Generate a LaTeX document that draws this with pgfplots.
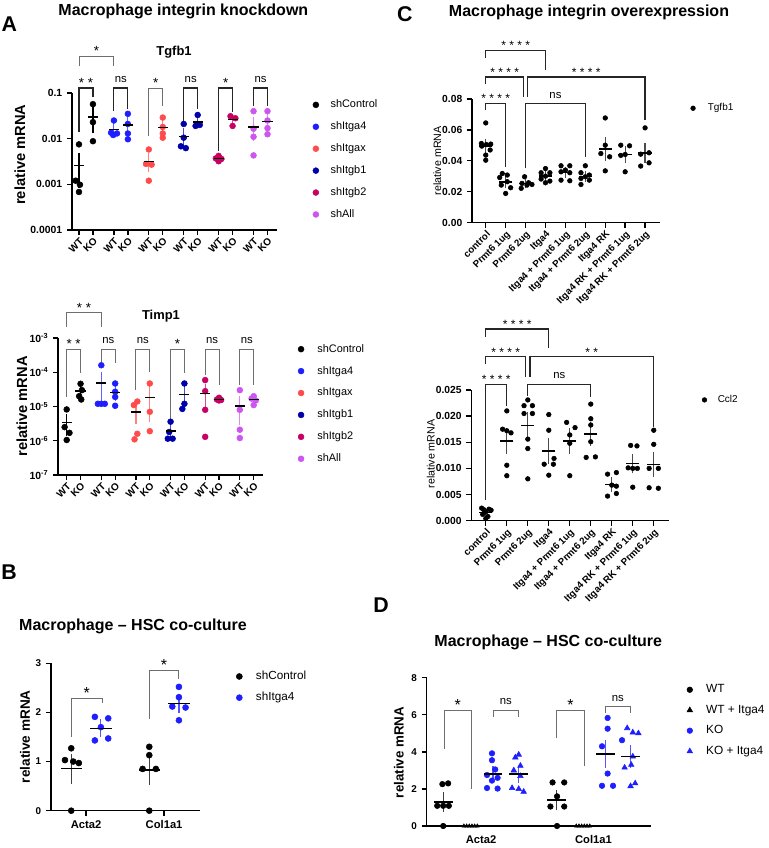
\documentclass[border=0pt]{standalone}
\usepackage{fontspec}
\setmainfont{Liberation Sans}
\usepackage{pgfplots}
\pgfplotsset{compat=1.18}
\newcommand\fs[1]{\fontsize{#1}{#1}\selectfont}
\definecolor{cA4}{RGB}{30,30,255}
\definecolor{cAx}{RGB}{255,75,75}
\definecolor{cB1}{RGB}{0,0,170}
\definecolor{cB2}{RGB}{200,0,100}
\definecolor{cAll}{RGB}{205,85,240}
\definecolor{brg}{RGB}{110,110,110}
\tikzset{
 brkK/.style={black!85, line width=0.9pt},
 brkG/.style={brg, line width=0.7pt},
 star/.style={anchor=base, yshift=0.5pt, text=black, font=\fs{10}},
 starB/.style={anchor=base, yshift=0pt, text=black, font=\fs{12}},
 starC/.style={anchor=base, yshift=0.5pt, text=black, font=\fs{9}},
 nsl/.style={anchor=base, yshift=4pt, text=black, font=\fs{8.5}},
}
% \brk{x1}{leg1}{x2}{leg2}{top}{labelstyle}{label}{linestyle}
\newcommand\brk[8]{\draw[#8] (axis cs:#1,#2) -- (axis cs:#1,#5) -- node[#6]{#7} (axis cs:#3,#5) -- (axis cs:#3,#4);}
% \ms{x}{mean}{sem}{color}{halfwidth}{cap}
\newcommand\ms[6]{\addplot[forget plot, only marks, mark=-, mark size=#5, mark options={black, line width=1.1pt}, error bars/.cd, y dir=both, y explicit, error bar style={#4, line width=0.9pt}, error mark options={mark size=#6, #4, line width=0.9pt}] coordinates {(#1,#2) +- (0,#3)};}
\pgfplotsset{prism/.style={scale only axis, anchor=south west, clip=false,
  axis lines*=left, axis line style={line width=1.1pt, -},
  tick align=outside, major tick length=3.8pt, tick style={line width=1pt, black},
  /pgf/number format/assume math mode=true, legend cell align=left,
  legend style={draw=none, fill=none, inner sep=0pt, anchor=north west}}}
\begin{document}
\begin{tikzpicture}
\path[use as bounding box] (0,0) rectangle (576pt,636pt);
% titles and panel letters
\node[font=\bfseries\fs{16}] at (7pt,618pt) {A};
\node[font=\bfseries\fs{12}] at (137.5pt,627.5pt) {Macrophage integrin knockdown};
\node[font=\bfseries\fs{9.7}] at (130.5pt,596.5pt) {Tgfb1};
\node[font=\bfseries\fs{9.7}] at (120.75pt,399pt) {Timp1};
\node[font=\bfseries\fs{16}] at (303.6pt,625.3pt) {C};
\node[font=\bfseries\fs{12}] at (441.75pt,626.8pt) {Macrophage integrin overexpression};
\node[font=\bfseries\fs{16}] at (6.75pt,206.8pt) {B};
\node[font=\bfseries\fs{12}] at (99.75pt,166.5pt) {Macrophage -- HSC co-culture};
\node[font=\bfseries\fs{16}] at (285.75pt,182.25pt) {D};
\node[font=\bfseries\fs{12}] at (411.2pt,154pt) {Macrophage -- HSC co-culture};

% ---------------- A: Tgfb1
\begin{axis}[prism, at={(54pt,463.5pt)}, width=153.75pt, height=102.75pt,
 ymode=log, ymin=1e-4, ymax=0.1, xmin=-0.5, xmax=14.18,
 ytick={1e-4,1e-3,1e-2,1e-1}, yticklabels={0.0001,0.001,0.01,0.1}, yminorticks=false,
 xtick={0,1,2.5,3.5,5,6,7.5,8.5,10,11,12.5,13.5},
 xticklabels={WT,KO,WT,KO,WT,KO,WT,KO,WT,KO,WT,KO},
 xticklabel style={rotate=45, anchor=north east, font=\bfseries\fs{7.5}, inner sep=1pt},
 yticklabel style={font=\bfseries\fs{7.8}},
 ylabel={relative mRNA}, ylabel style={font=\bfseries\fs{11}, at={(axis description cs:-0.254,0.55)}, anchor=center},
 legend style={at={(axis description cs:1.174,0.971)}, font=\fs{8.2}, row sep=5pt, column sep=6.8pt}]
\addplot[only marks, mark=*, mark size=2.2pt, black] coordinates {(0,0.0075) (-0.24,0.0012) (0.07,0.00098) (0,0.00068) (1,0.057) (1,0.023) (1,0.0088)};
\addlegendentry{shControl}
\addplot[only marks, mark=*, mark size=2.2pt, cA4] coordinates {(2.5,0.025) (2.3,0.0135) (2.72,0.013) (2.45,0.012) (3.5,0.035) (3.5,0.021) (3.5,0.013) (3.5,0.0097)};
\addlegendentry{shItga4}
\addplot[only marks, mark=*, mark size=2.2pt, cAx] coordinates {(5,0.0058) (4.8,0.0028) (5.2,0.0027) (5,0.0012) (6,0.029) (6,0.018) (6,0.013) (6,0.0105)};
\addlegendentry{shItgax}
\addplot[only marks, mark=*, mark size=2.2pt, cB1] coordinates {(7.5,0.021) (7.5,0.0105) (7.3,0.0068) (7.65,0.0062) (8.5,0.033) (8.5,0.021) (8.35,0.019) (8.65,0.020)};
\addlegendentry{shItgb1}
\addplot[only marks, mark=*, mark size=2.2pt, cB2] coordinates {(10,0.0042) (9.8,0.0037) (10.2,0.0036) (10,0.0032) (10.85,0.031) (11.2,0.028) (11,0.019)};
\addlegendentry{shItgb2}
\addplot[only marks, mark=*, mark size=2.2pt, cAll] coordinates {(12.5,0.040) (12.5,0.0165) (12.5,0.011) (12.5,0.0043) (13.5,0.040) (13.5,0.025) (13.5,0.017) (13.5,0.0125)};
\addlegendentry{shAll}
\ms{0}{0.00259}{0.00162}{black}{3.8pt}{2.2pt}
\ms{1}{0.0296}{0.0143}{black}{3.8pt}{2.2pt}
\ms{2.5}{0.0159}{0.00306}{cA4!70}{3.8pt}{2.2pt}
\ms{3.5}{0.0197}{0.0056}{cA4!70}{3.8pt}{2.2pt}
\ms{5}{0.00313}{0.00096}{cAx!70}{3.8pt}{2.2pt}
\ms{6}{0.0176}{0.0041}{cAx!70}{3.8pt}{2.2pt}
\ms{7.5}{0.0111}{0.00343}{cB1!70}{3.8pt}{2.2pt}
\ms{8.5}{0.02325}{0.00328}{cB1!70}{3.8pt}{2.2pt}
\ms{10}{0.00368}{0.0002}{cB2!70}{3.8pt}{2.2pt}
\ms{11}{0.026}{0.0036}{cB2!70}{3.8pt}{2.2pt}
\ms{12.5}{0.0180}{0.0078}{cAll!70}{3.8pt}{2.2pt}
\ms{13.5}{0.0236}{0.006}{cAll!70}{3.8pt}{2.2pt}
\brk{0}{0.39}{2.5}{0.39}{0.6457}{star}{*}{brkG}
\brk{0}{0.014}{1}{0.082}{0.1287}{star}{* *}{brkK}
\brk{2.5}{0.040}{3.5}{0.045}{0.1287}{nsl}{ns}{brkK}
\brk{5}{0.0115}{6}{0.052}{0.1287}{star}{*}{brkG}
\brk{7.5}{0.0245}{8.5}{0.045}{0.1287}{nsl}{ns}{brkK}
\brk{10}{0.0054}{11}{0.038}{0.1287}{star}{*}{brkK}
\brk{12.5}{0.052}{13.5}{0.052}{0.1287}{nsl}{ns}{brkK}
\end{axis}

% ---------------- A: Timp1
\begin{axis}[prism, at={(43.5pt,279.75pt)}, width=153.5pt, height=102.75pt,
 ymode=log, ymin=1e-7, ymax=1e-3, xmin=-0.628, xmax=14.15,
 ytick={1e-7,1e-6,1e-5,1e-4,1e-3},
 yticklabels={10\textsuperscript{-7},10\textsuperscript{-6},10\textsuperscript{-5},10\textsuperscript{-4},10\textsuperscript{-3}}, yminorticks=false,
 xtick={0,1,2.5,3.5,5,6,7.5,8.5,10,11,12.5,13.5},
 xticklabels={WT,KO,WT,KO,WT,KO,WT,KO,WT,KO,WT,KO},
 xticklabel style={rotate=45, anchor=north east, font=\bfseries\fs{7.5}, inner sep=1pt},
 yticklabel style={font=\bfseries\fs{7.8}},
 ylabel={relative mRNA}, ylabel style={font=\bfseries\fs{11}, at={(axis description cs:-0.177,0.5)}, anchor=center},
 legend style={at={(axis description cs:1.172,0.976)}, font=\fs{8.2}, row sep=5pt, column sep=8pt}]
\addplot[only marks, mark=*, mark size=2.2pt, black] coordinates {(0,8.2e-6) (-0.15,2.5e-6) (0.2,1.7e-6) (0,1.05e-6) (1,4.6e-5) (1.1,3.0e-5) (0.9,2.0e-5) (1.05,1.6e-5)};
\addlegendentry{shControl}
\addplot[only marks, mark=*, mark size=2.2pt, cA4] coordinates {(2.5,1.6e-4) (2.25,1.2e-5) (2.5,1.2e-5) (2.75,1.2e-5) (3.5,4.7e-5) (3.5,2.7e-5) (3.5,1.9e-5) (3.5,1.05e-5)};
\addlegendentry{shItga4}
\addplot[only marks, mark=*, mark size=2.2pt, cAx] coordinates {(5.1,1.4e-5) (4.85,1.1e-5) (5.1,1.6e-6) (4.9,1.1e-6) (6,4.7e-5) (6,7e-6) (6,1.9e-6)};
\addlegendentry{shItgax}
\addplot[only marks, mark=*, mark size=2.2pt, cB1] coordinates {(7.5,3.6e-6) (7.4,1.8e-6) (7.3,1.15e-6) (7.65,1.15e-6) (8.5,4.7e-5) (8.5,1.2e-5) (8.35,8.5e-6)};
\addlegendentry{shItgb1}
\addplot[only marks, mark=*, mark size=2.2pt, cB2] coordinates {(10,5.9e-5) (10,2.8e-5) (10,8e-6) (10,1.3e-6) (11,1.8e-5) (10.85,1.6e-5) (11.15,1.55e-5) (11,1.5e-5)};
\addlegendentry{shItgb2}
\addplot[only marks, mark=*, mark size=2.2pt, cAll] coordinates {(12.5,3.0e-5) (12.5,8e-6) (12.5,2.1e-6) (12.5,1.2e-6) (13.5,2.0e-5) (13.35,1.7e-5) (13.65,1.5e-5) (13.5,1.1e-5)};
\addlegendentry{shAll}
\ms{0}{3.36e-6}{1.64e-6}{black}{3.8pt}{2.2pt}
\ms{1}{2.8e-5}{6.7e-6}{black}{3.8pt}{2.2pt}
\ms{2.5}{4.9e-5}{3.7e-5}{cA4!70}{3.8pt}{2.2pt}
\ms{3.5}{2.59e-5}{7.8e-6}{cA4!70}{3.8pt}{2.2pt}
\ms{5}{6.93e-6}{3.28e-6}{cAx!70}{3.8pt}{2.2pt}
\ms{6}{1.86e-5}{1.43e-5}{cAx!70}{3.8pt}{2.2pt}
\ms{7.5}{1.925e-6}{5.8e-7}{cB1!70}{3.8pt}{2.2pt}
\ms{8.5}{2.25e-5}{1.23e-5}{cB1!70}{3.8pt}{2.2pt}
\ms{10}{2.41e-5}{1.29e-5}{cB2!70}{3.8pt}{2.2pt}
\ms{11}{1.61e-5}{6.6e-7}{cB2!70}{3.8pt}{2.2pt}
\ms{12.5}{1.03e-5}{6.7e-6}{cAll!70}{3.8pt}{2.2pt}
\ms{13.5}{1.575e-5}{1.89e-6}{cAll!70}{3.8pt}{2.2pt}
\brk{0}{2.14e-3}{2.5}{2.14e-3}{5.48e-3}{star}{* *}{brkG}
\brk{0}{1.93e-5}{1}{9.3e-5}{4.77e-4}{star}{* *}{brkG}
\brk{2.5}{2.0e-4}{3.5}{1.86e-4}{4.77e-4}{nsl}{ns}{brkG}
\brk{5}{3.03e-5}{6}{1.04e-4}{4.77e-4}{nsl}{ns}{brkG}
\brk{7.5}{4.04e-6}{8.5}{9.3e-5}{4.77e-4}{star}{*}{brkG}
\brk{10}{8.3e-5}{11}{4.25e-5}{4.77e-4}{nsl}{ns}{brkG}
\brk{12.5}{4.25e-5}{13.5}{4.25e-5}{4.77e-4}{nsl}{ns}{brkG}
\end{axis}

% ---------------- C: Tgfb1
\begin{axis}[prism, at={(354pt,468.98pt)}, width=141pt, height=92.8pt,
 ymin=0, ymax=0.08, xmin=-0.69, xmax=8.75, scaled y ticks=false,
 ytick={0,0.02,0.04,0.06,0.08}, yticklabels={0.00,0.02,0.04,0.06,0.08},
 xtick={0,1,2,3,4,5,6,7,8},
 xticklabels={control,Prmt6 1ug,Prmt6 2ug,Itga4,Itga4 + Prmt6 1ug,Itga4 + Prmt6 2ug,Itga4 RK,Itga4 RK + Prmt6 1ug,Itga4 RK + Prmt6 2ug},
 xticklabel style={rotate=45, anchor=north east, font=\bfseries\fs{7.3}, inner sep=1pt},
 yticklabel style={font=\bfseries\fs{7.7}},
 ylabel={relative mRNA}, ylabel style={font=\fs{8}, at={(axis description cs:-0.185,0.5)}, anchor=center},
 legend style={at={(axis description cs:1.162,0.986)}, font=\fs{7.5}, column sep=7.3pt}]
\addplot[only marks, mark=*, mark size=1.75pt, black] coordinates {(0,0.0645) (-0.22,0.0512) (0.25,0.0508) (0.03,0.0505) (-0.2,0.0495) (0.22,0.0470) (0,0.0437) (0,0.0404)
 (0.83,0.0318) (1.08,0.0308) (0.7,0.0292) (1.08,0.0265) (0.78,0.0243) (1.25,0.0226) (1,0.0189)
 (1.95,0.0297) (2.15,0.0258) (1.82,0.0254) (2.32,0.0247) (2.07,0.0243) (1.78,0.0222)
 (3,0.0350) (2.78,0.0323) (3.22,0.0323) (3,0.0301) (2.78,0.0282) (3.22,0.0269) (3,0.0258)
 (3.78,0.0368) (4.22,0.0368) (4,0.0340) (3.78,0.0329) (4.22,0.0323) (3.78,0.0275) (4.22,0.0271)
 (5,0.0368) (4.78,0.0323) (5.2,0.0308) (5,0.0297) (4.78,0.0286) (5.2,0.0275) (4.78,0.0247)
 (6,0.0677) (6,0.0501) (5.78,0.0447) (6.22,0.0426) (6,0.0335)
 (6.78,0.0501) (7.22,0.0497) (7,0.0441) (6.78,0.0435) (7,0.0329)
 (8,0.0613) (8.2,0.0452) (7.78,0.0443) (8.2,0.0387) (7.78,0.0366)};
\addlegendentry{Tgfb1}
\ms{0}{0.0497}{0.0025}{black!70}{5pt}{2.5pt}
\ms{1}{0.0263}{0.00177}{black!70}{5pt}{2.5pt}
\ms{2}{0.02535}{0.001}{black!70}{5pt}{2.5pt}
\ms{3}{0.0301}{0.00125}{black!70}{5pt}{2.5pt}
\ms{4}{0.0325}{0.0015}{black!70}{5pt}{2.5pt}
\ms{5}{0.0300}{0.00145}{black!70}{5pt}{2.5pt}
\ms{6}{0.0477}{0.00567}{black!70}{5pt}{2.5pt}
\ms{7}{0.0441}{0.0031}{black!70}{5pt}{2.5pt}
\ms{8}{0.0452}{0.00434}{black!70}{5pt}{2.5pt}
\brk{0}{0.1067}{3}{0.0985}{0.1114}{starC}{* * * *}{brkK}
\brk{0}{0.0899}{1.9}{0.0813}{0.0942}{starC}{* * * *}{brkK}
\brk{2.1}{0.0813}{8}{0.0662}{0.0942}{starC}{* * * *}{brkK}
\brk{0}{0.0727}{1}{0.0361}{0.0770}{starC}{* * * *}{brkK}
\brk{2}{0.0351}{5}{0.0426}{0.0770}{nsl}{ns}{brkK}
\end{axis}

% ---------------- C: Ccl2
\begin{axis}[prism, at={(353.5pt,245.5pt)}, width=148.3pt, height=98pt,
 ymin=0, ymax=0.025, xmin=-0.69, xmax=8.73, scaled y ticks=false,
 ytick={0,0.005,0.01,0.015,0.02,0.025}, yticklabels={0.000,0.005,0.010,0.015,0.020,0.025},
 xtick={0,1,2,3,4,5,6,7,8},
 xticklabels={control,Prmt6 1ug,Prmt6 2ug,Itga4,Itga4 + Prmt6 1ug,Itga4 + Prmt6 2ug,Itga4 RK,Itga4 RK + Prmt6 1ug,Itga4 RK + Prmt6 2ug},
 xticklabel style={rotate=45, anchor=north east, font=\bfseries\fs{7.3}, inner sep=1pt},
 yticklabel style={font=\bfseries\fs{7.7}},
 ylabel={relative mRNA}, ylabel style={font=\fs{8}, at={(axis description cs:-0.205,0.51)}, anchor=center},
 legend style={at={(axis description cs:1.166,0.982)}, font=\fs{7.5}, column sep=6.2pt}]
\addplot[only marks, mark=*, mark size=1.75pt, black] coordinates {(-0.2,0.0024) (0.15,0.0022) (-0.1,0.0021) (0.25,0.0020) (0,0.0017) (-0.15,0.0012) (0.1,0.0008) (0,0.0004)
 (1,0.0210) (0.8,0.0175) (1.2,0.0168) (1,0.0172) (1,0.0106) (1,0.0086)
 (2,0.0231) (1.82,0.0220) (2.22,0.0220) (1.82,0.0205) (2.22,0.0205) (2,0.0156) (2,0.0138) (2,0.0080)
 (3,0.0203) (3,0.0173) (3.25,0.0119) (2.78,0.0108) (3.22,0.0108) (3,0.0087)
 (3.85,0.0188) (4.25,0.0178) (4,0.0164) (4,0.0148) (4,0.0086)
 (5,0.0223) (5,0.0195) (5,0.0183) (5,0.0151) (4.78,0.0121) (5.22,0.0122)
 (6.22,0.0092) (5.8,0.0089) (6,0.0068) (6.22,0.0066) (6.22,0.0052) (5.8,0.0047)
 (6.9,0.0144) (7.2,0.0143) (6.78,0.0101) (7,0.0100) (7.22,0.0100) (7,0.0064)
 (8,0.0173) (8,0.0146) (7.78,0.0100) (8.22,0.0100) (7.78,0.0063) (8.22,0.0062)};
\addlegendentry{Ccl2}
\ms{0}{0.0016}{0.00026}{black!70}{5pt}{2.5pt}
\ms{1}{0.01528}{0.0019}{black!70}{5pt}{2.5pt}
\ms{2}{0.0182}{0.00186}{black!70}{5pt}{2.5pt}
\ms{3}{0.0133}{0.00183}{black!70}{5pt}{2.5pt}
\ms{4}{0.01528}{0.0018}{black!70}{5pt}{2.5pt}
\ms{5}{0.01658}{0.00168}{black!70}{5pt}{2.5pt}
\ms{6}{0.0069}{0.00075}{black!70}{5pt}{2.5pt}
\ms{7}{0.0109}{0.00123}{black!70}{5pt}{2.5pt}
\ms{8}{0.0107}{0.0018}{black!70}{5pt}{2.5pt}
\brk{0}{0.0352}{3}{0.0330}{0.03667}{starC}{* * * *}{brkK}
\brk{0}{0.02998}{1.9}{0.02755}{0.03137}{starC}{* * * *}{brkK}
\brk{2.1}{0.02755}{8}{0.01798}{0.03137}{starC}{* *}{brkK}
\brk{0}{0.00396}{1}{0.0220}{0.0261}{starC}{* * * *}{brkK}
\brk{2}{0.02385}{5}{0.0237}{0.0261}{nsl}{ns}{brkK}
\end{axis}

% ---------------- B
\begin{axis}[prism, at={(38.25pt,27.98pt)}, width=111.75pt, height=110.55pt,
 ymin=0, ymax=3, xmin=-0.449, xmax=1.46,
 ytick={0,1,2,3}, yticklabels={0,1,2,3},
 xtick={0,1}, xticklabels={Acta2,Col1a1},
 xticklabel style={font=\bfseries\fs{8.4}},
 yticklabel style={font=\bfseries\fs{7.4}},
 ylabel={relative mRNA}, ylabel style={font=\bfseries\fs{10.2}, at={(axis description cs:-0.174,0.502)}, anchor=center},
 legend style={at={(axis description cs:1.242,0.966)}, font=\fs{8.8}, row sep=4pt, column sep=8.2pt}]
\addplot[only marks, mark=*, mark size=2.25pt, black] coordinates {(-0.19,1.27) (-0.27,1.03) (-0.164,1.0) (-0.092,0.97) (-0.19,0) (0.81,1.30) (0.81,1.13) (0.725,0.85) (0.895,0.85) (0.81,0)};
\addlegendentry{shControl}
\addplot[only marks, mark=*, mark size=2.25pt, cA4] coordinates {(0.113,1.91) (0.284,1.88) (0.19,1.70) (0.113,1.43) (0.284,1.47) (1.19,2.52) (1.19,2.31) (1.105,2.12) (1.275,2.10) (1.19,1.84)};
\addlegendentry{shItga4}
\ms{-0.19}{0.854}{0.22}{black!75}{8pt}{3pt}
\ms{0.19}{1.678}{0.1}{cA4!75}{8pt}{3pt}
\ms{0.81}{0.826}{0.224}{black!75}{8pt}{3pt}
\ms{1.19}{2.178}{0.114}{cA4!75}{8pt}{3pt}
\brk{-0.19}{1.495}{0.21}{2.187}{2.275}{starB}{*}{brkG}
\brk{0.81}{1.868}{1.19}{2.682}{2.851}{starB}{*}{brkG}
\end{axis}

% ---------------- D
\begin{axis}[prism, at={(320pt,16.5pt)}, width=168pt, height=111.2pt,
 ymin=0, ymax=8, xmin=-0.484, xmax=1.509,
 ytick={0,2,4,6,8}, yticklabels={0,2,4,6,8},
 xtick={0,1}, xticklabels={Acta2,Col1a1}, xtick style={draw=none},
 xticklabel style={font=\bfseries\fs{8.4}},
 yticklabel style={font=\bfseries\fs{7.4}},
 ylabel={relative mRNA}, ylabel style={font=\bfseries\fs{10}, at={(axis description cs:-0.124,0.496)}, anchor=center},
 legend style={at={(axis description cs:1.161,0.973)}, font=\fs{8.9}, row sep=3.7pt, column sep=8.2pt}]
\addplot[only marks, mark=*, mark size=2.1pt, black] coordinates {(-0.344,2.26) (-0.293,2.30) (-0.39,1.09) (-0.337,1.09) (-0.287,1.09) (-0.337,0) (0.636,2.35) (0.74,2.35) (0.676,1.6) (0.617,1.05) (0.74,1.05) (0.676,0)};
\addlegendentry{WT}
\addplot[only marks, mark=triangle*, mark size=1.6pt, black, legend image post style={mark size=2.4pt}] coordinates {(-0.153,0) (-0.129,0) (-0.105,0) (-0.081,0) (-0.057,0) (-0.033,0) (0.847,0) (0.871,0) (0.895,0) (0.919,0) (0.943,0) (0.967,0)};
\addlegendentry{WT + Itga4}
\addplot[only marks, mark=*, mark size=2.1pt, cA4] coordinates {(0.097,3.92) (0.097,3.55) (0.126,3.05) (0.053,2.75) (0.147,2.6) (0.097,2.45) (0.053,2.05) (0.147,2.02) (1.126,5.83) (1.126,5.25) (1.254,4.63) (1.076,4.3) (1.126,2.83) (1.076,2.17) (1.174,2.17)};
\addlegendentry{KO}
\addplot[only marks, mark=triangle*, mark size=2.4pt, cA4] coordinates {(0.335,3.85) (0.305,3.7) (0.35,3.25) (0.291,3.0) (0.35,2.7) (0.276,2.05) (0.335,2.0) (0.379,1.85) (1.30,5.28) (1.35,5.05) (1.40,5.0) (1.35,3.75) (1.336,3.3) (1.277,3.15) (1.371,2.3) (1.33,2.15)};
\addlegendentry{KO + Itga4}
\ms{-0.337}{1.305}{0.353}{black!75}{7pt}{2.6pt}
\ms{0.106}{2.80}{0.24}{cA4!75}{7pt}{2.6pt}
\ms{0.335}{2.80}{0.276}{cA4!75}{7pt}{2.6pt}
\ms{0.672}{1.40}{0.367}{black!75}{7pt}{2.6pt}
\ms{1.106}{3.883}{0.564}{cA4!75}{7pt}{2.6pt}
\ms{1.33}{3.7475}{0.43}{cA4!75}{7pt}{2.6pt}
\brk{-0.325}{4.135}{-0.089}{1.98}{6.216}{starB}{*}{brkG}
\brk{0.106}{5.89}{0.335}{5.89}{6.25}{nsl}{ns}{brkG}
\brk{0.675}{4.76}{0.917}{3.23}{6.216}{starB}{*}{brkG}
\brk{1.11}{6.11}{1.325}{6.11}{6.43}{nsl}{ns}{brkG}
\end{axis}
\end{tikzpicture}
\end{document}
